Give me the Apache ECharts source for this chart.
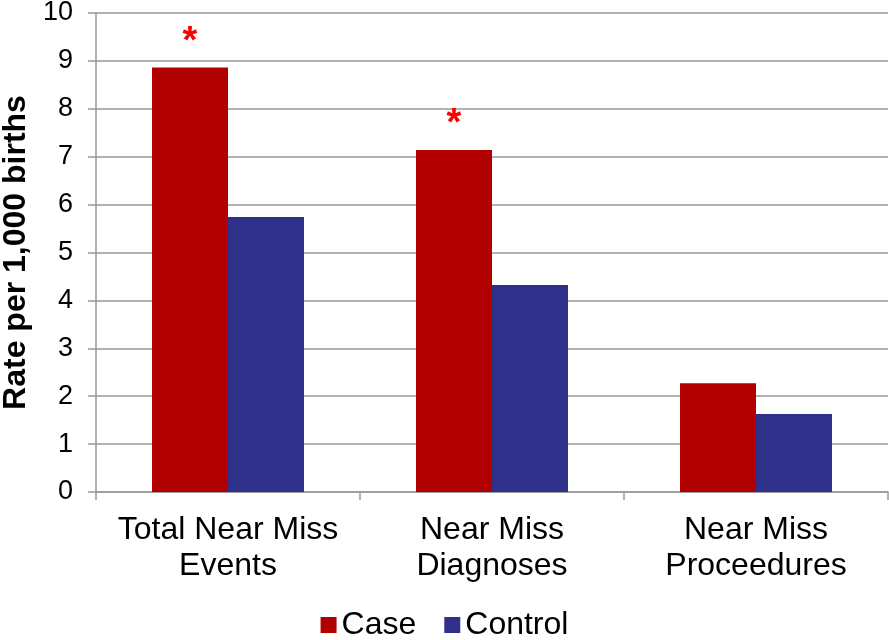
<!DOCTYPE html>
<html><head><meta charset="utf-8">
<script src="https://cdn.jsdelivr.net/npm/echarts@6/dist/echarts.min.js"></script>
<style>html,body{margin:0;padding:0;background:#fff}#c{width:889px;height:640px}</style>
</head><body><div id="c"></div>
<script>
const categories = ['Total Near Miss\nEvents', 'Near Miss\nDiagnoses', 'Near Miss\nProceedures'];
const caseValues = [8.86, 7.14, 2.27];
const controlValues = [5.74, 4.32, 1.63];
const significant = [true, true, false];
const yTicks = [0, 10, 1];

const chart = echarts.init(document.getElementById('c'));
const font = '"Liberation Sans", Arial, sans-serif';
chart.setOption({
  animation: false,
  textStyle: { fontFamily: font },
  legend: {
    bottom: -6, left: 'center', itemWidth: 16, itemHeight: 16, itemGap: 28,
    icon: 'rect',
    textStyle: { fontSize: 32, color: '#000', fontFamily: font },
    data: ['Case', 'Control']
  },
  grid: { left: 96, right: 1, top: 13, bottom: 148, containLabel: false, outerBoundsMode: 'none' },
  xAxis: {
    type: 'category', data: categories,
    axisLine: { lineStyle: { color: '#999', width: 1.5 } },
    axisTick: { show: true, length: 8, lineStyle: { color: '#999', width: 1.5 } },
    axisLabel: { fontSize: 32, color: '#000', lineHeight: 36, margin: 20, interval: 0, fontFamily: font }
  },
  yAxis: {
    type: 'value', min: yTicks[0], max: yTicks[1], interval: yTicks[2],
    name: 'Rate per 1,000 births', nameLocation: 'middle', nameGap: 62,
    nameTextStyle: { fontSize: 32, fontWeight: 'bold', color: '#000', fontFamily: font },
    axisLine: { show: true, lineStyle: { color: '#999', width: 1.5 } },
    axisTick: { show: true, length: 8, lineStyle: { color: '#999', width: 1.5 } },
    axisLabel: { fontSize: 27, color: '#000', margin: 23, fontFamily: font },
    splitLine: { lineStyle: { color: '#999', width: 1.5 } }
  },
  series: [
    {
      name: 'Case', type: 'bar', barWidth: 76, barGap: '0%',
      itemStyle: { color: '#B20000' },
      data: caseValues.map((v, i) => ({
        value: v,
        label: {
          show: significant[i], position: 'top', formatter: '*', distance: 6,
          fontSize: 38, fontWeight: 'bold', color: '#FF0000', fontFamily: font
        }
      }))
    },
    {
      name: 'Control', type: 'bar', barWidth: 76,
      itemStyle: { color: '#2E3089' },
      data: controlValues
    }
  ]
});
</script></body></html>
